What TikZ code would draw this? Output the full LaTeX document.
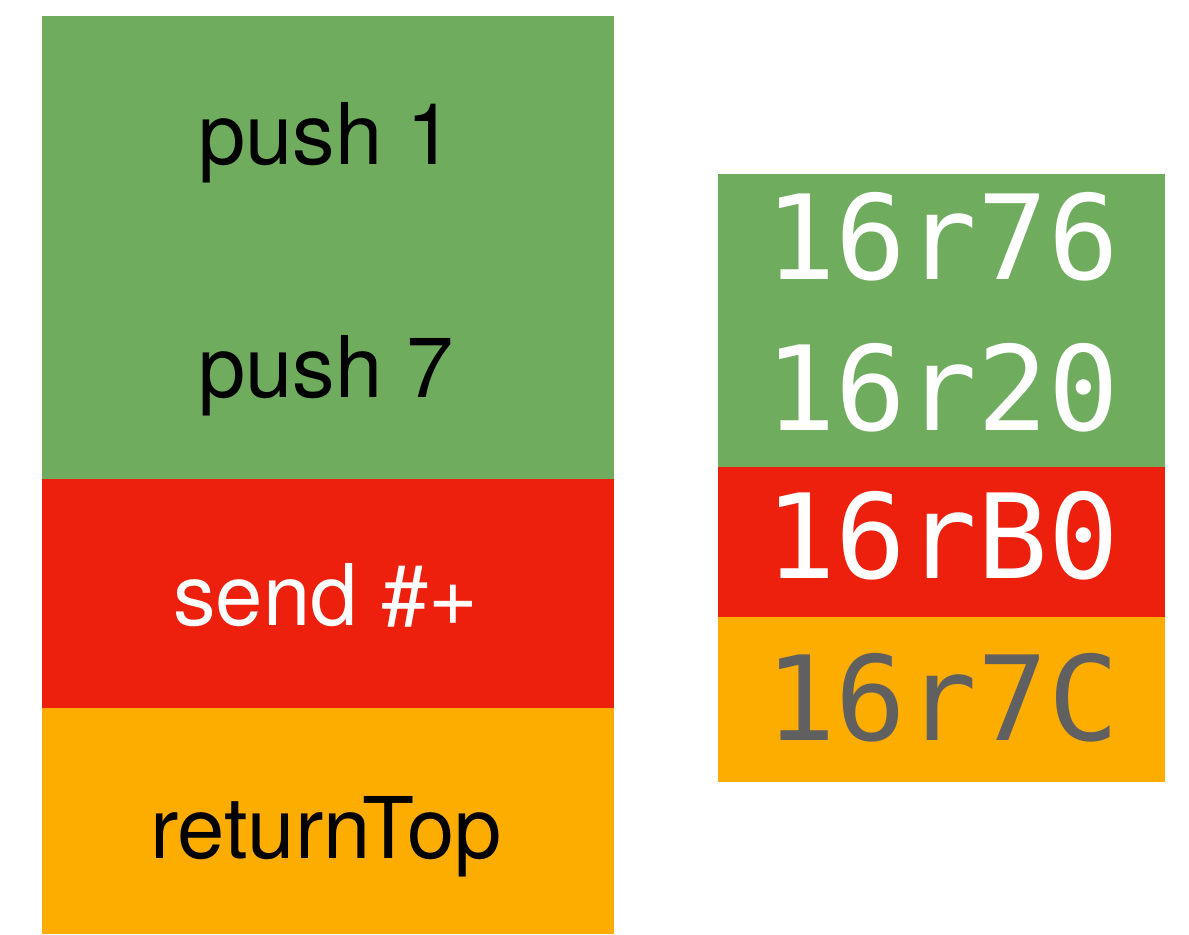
\documentclass[tikz,border=0pt]{standalone}
\usepackage{fontspec}
\setmainfont{TeX Gyre Heros}
\setmonofont{DejaVu Sans Mono}
\definecolor{bcgreen}{RGB}{111,172,94}
\definecolor{bcred}{RGB}{237,32,14}
\definecolor{bcorange}{RGB}{253,172,0}
\definecolor{bcgray}{RGB}{96,96,96}
\tikzset{
  instr/.style={anchor=base,font=\fontsize{24.2}{29}\selectfont,inner sep=0pt},
  bytes/.style={anchor=base,font=\ttfamily\fontsize{33.4}{40}\selectfont,inner sep=0pt}
}
\begin{document}
\begin{tikzpicture}[x=0.01cm,y=-0.01cm]
\useasboundingbox (0,0) rectangle (1189,934);

% method
\fill[color=bcgreen] (42,16) rectangle (614,479);
\fill[color=bcred] (42,479) rectangle (614,708);
\fill[color=bcorange] (42,708) rectangle (614,934);

\node[instr] (push1) at (326,165) {push 1};
\node[instr] (push7) at (326,398) {push 7};
\node[instr,text=white] (send) at (326,625) {send \#+};
\node[instr] (ret) at (326,858) {returnTop};

% bytecodes
\fill[color=bcgreen] (718,174) rectangle (1165,467);
\fill[color=bcred] (718,467) rectangle (1165,617);
\fill[color=bcorange] (718,617) rectangle (1165,782);

\node[bytes,text=white] (b76) at (942,280) {16r76};
\node[bytes,text=white] (b20) at (942,430) {16r20};
\node[bytes,text=white] (bB0) at (942,578) {16rB0};
\node[bytes,text=bcgray] (b7C) at (942,740) {16r7C};

\end{tikzpicture}
\end{document}
